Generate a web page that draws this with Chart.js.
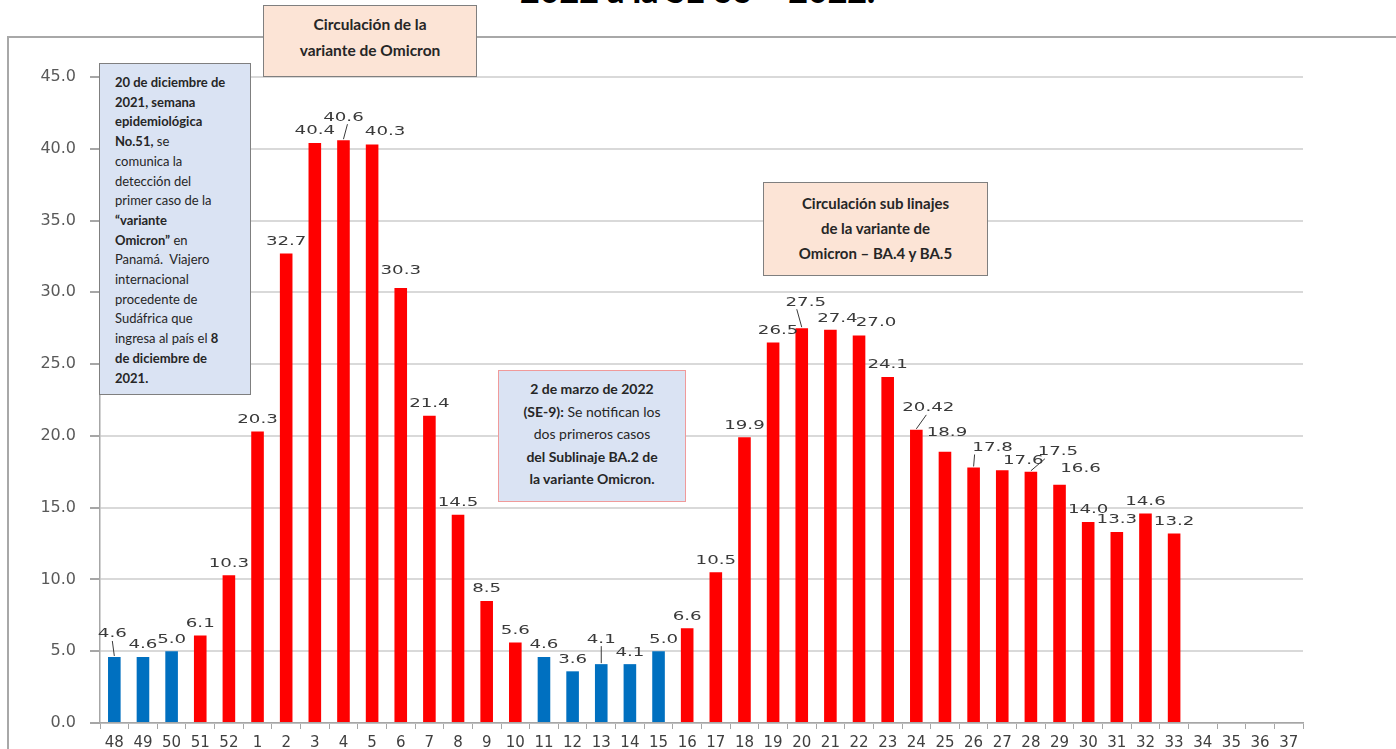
<!DOCTYPE html>
<html>
<head>
<meta charset="utf-8">
<title>Tasa semanal</title>
<script src="https://cdn.jsdelivr.net/npm/chart.js@4.4.1/dist/chart.umd.min.js"></script>
<style>
    html, body { margin: 0; padding: 0; background: #fff; overflow: hidden; }
    #wrap { position: relative; width: 1396px; height: 749px; overflow: hidden; }
    #frame { position: absolute; left: 7px; top: 36px; width: 1420px; height: 800px; border: 2px solid #a8a8a8; box-sizing: border-box; }
    #c { position: absolute; left: 0; top: 0; }
    .title { position: absolute; left: 520px; top: -27px; font: 900 34px/34px Lato, "Liberation Sans", sans-serif; color: #000; white-space: nowrap; }
    .note { position: absolute; box-sizing: border-box; font-family: Lato, "Open Sans", sans-serif; color: #262626; }
    .peach { background: #fce4d6; border: 1.5px solid #7f7f7f; text-align: center; font-weight: bold; }
    .blue { background: #dae3f3; }
    b { font-weight: bold; }
</style>
</head>
<body>
<div id="wrap">
    <div id="frame"></div>
    <div class="title">2022 a la SE 33 – 2022.</div>
    <canvas id="c" width="1396" height="765"></canvas>

    <div class="note peach" style="left:263px; top:5px; width:214px; height:72px; font-size:15.5px; line-height:26px; padding-top:5px;">
        Circulación de la<br>variante de Omicron
    </div>

    <div class="note blue" style="left:99px; top:63px; width:152px; height:332px; border:1.5px solid #7f7f7f; font-size:13px; line-height:19.7px; padding:9px 0 0 15px;">
        <b>20 de diciembre de<br>2021, semana<br>epidemiológica<br>No.51,</b> se<br>comunica la<br>detección del<br>primer caso de la<br><b>“variante<br>Omicron”</b> en<br>Panamá.&nbsp; Viajero<br>internacional<br>procedente de<br>Sudáfrica que<br>ingresa al país el <b>8<br>de diciembre de<br>2021.</b>
    </div>

    <div class="note blue" style="left:498px; top:370px; width:188px; height:132px; border:1px solid #f09a9a; font-size:14px; line-height:22.5px; text-align:center; padding-top:7px;">
        <b>2 de marzo de 2022</b><br><b>(SE-9):</b> Se notifican los<br>dos primeros casos<br><b>del Sublinaje BA.2 de<br>la variante Omicron.</b>
    </div>

    <div class="note peach" style="left:763px; top:182px; width:225px; height:94px; font-size:15px; line-height:25px; padding-top:8px;">
        Circulación sub linajes<br>de la variante de<br>Omicron – BA.4 y BA.5
    </div>
</div>

<script>
// semanas epidemiológicas: 48-52 de 2021, 1-37 de 2022
const weeks = ['48', '49', '50', '51', '52',
    '1', '2', '3', '4', '5', '6', '7', '8', '9', '10',
    '11', '12', '13', '14', '15', '16', '17', '18', '19', '20',
    '21', '22', '23', '24', '25', '26', '27', '28', '29', '30',
    '31', '32', '33', '34', '35', '36', '37'];

const rates = [4.6, 4.6, 5.0, 6.1, 10.3,
    20.3, 32.7, 40.4, 40.6, 40.3, 30.3, 21.4, 14.5, 8.5, 5.6,
    4.6, 3.6, 4.1, 4.1, 5.0, 6.6, 10.5, 19.9, 26.5, 27.5,
    27.4, 27.0, 24.1, 20.42, 18.9, 17.8, 17.6, 17.5, 16.6, 14.0,
    13.3, 14.6, 13.2, null, null, null, null];

// semanas antes de Omicron y del sublinaje BA.2 van en azul
const blueWeeks = ['48', '49', '50', '11', '12', '13', '14', '15'];

const yTicks = [0, 5, 10, 15, 20, 25, 30, 35, 40, 45];

function fmtRate(v) {
    return Number.isInteger(Math.round(v * 100) / 10) ? v.toFixed(1) : String(v);
}

// etiquetas de valor sobre cada barra, algunas desplazadas con línea guía
const barValueLabels = {
    id: 'barValueLabels',
    afterDatasetsDraw(chart, args, opts) {
        const ctx = chart.ctx;
        const meta = chart.getDatasetMeta(0);
        ctx.save();
        ctx.font = opts.font;
        ctx.fillStyle = opts.color;
        ctx.strokeStyle = opts.color;
        ctx.lineWidth = 1;
        ctx.textAlign = 'center';
        ctx.textBaseline = 'middle';
        meta.data.forEach((bar, i) => {
            const v = rates[i];
            if (v == null) return;
            const [dx, dy, lead] = opts.nudges[i] || [0, -12];
            const x = bar.x + dx;
            const y = bar.y + dy;
            if (lead !== undefined) {
                ctx.beginPath();
                ctx.moveTo(bar.x, bar.y - 1);
                ctx.lineTo(bar.x + lead, y + 7);
                ctx.stroke();
            }
            ctx.save();
            ctx.translate(x, y);
            ctx.scale(opts.stretch, 1);
            ctx.fillText(fmtRate(v), 0, 0);
            ctx.restore();
        });
        ctx.restore();
    }
};

new Chart(document.getElementById('c'), {
    type: 'bar',
    data: {
        labels: weeks,
        datasets: [{
            data: rates,
            backgroundColor: c => blueWeeks.includes(weeks[c.dataIndex]) ? '#0070c0' : '#ff0000',
            barPercentage: 0.44,
            categoryPercentage: 1
        }]
    },
    options: {
        responsive: false,
        animation: false,
        layout: { padding: { left: 8, right: 93, top: 77, bottom: 0 } },
        plugins: {
            legend: { display: false },
            tooltip: { enabled: false },
            barValueLabels: {
                font: '13px "DejaVu Sans"',
                color: '#3a3a3a',
                stretch: 1.4,
                nudges: {
                    0: [-2, -23, -2],
                    8: [0, -23, 4],
                    9: [13, -13],
                    10: [0, -17],
                    17: [0, -25, 0],
                    19: [5, -12],
                    23: [5, -12],
                    24: [4, -26, -5],
                    25: [7, -11],
                    26: [17, -13],
                    28: [12, -22, 10],
                    29: [2, -19],
                    30: [19, -20, 1],
                    31: [21, -10],
                    32: [27, -20, 14],
                    33: [21, -16]
                }
            }
        },
        scales: {
            x: {
                grid: {
                    drawOnChartArea: false,
                    tickLength: 6,
                    tickColor: '#a6a6a6',
                    offset: true
                },
                border: { color: '#a6a6a6', width: 1.5 },
                ticks: {
                    color: '#404040',
                    font: { family: 'DejaVu Sans', size: 15 },
                    padding: 5,
                    maxRotation: 0,
                    autoSkip: false
                },
                afterFit: s => { s.height = 42; }
            },
            y: {
                min: 0,
                max: 45,
                afterBuildTicks: s => { s.ticks = yTicks.map(v => ({ value: v })); },
                ticks: {
                    callback: v => v.toFixed(1),
                    color: '#595959',
                    font: { family: 'DejaVu Sans', size: 16 },
                    padding: 14
                },
                grid: {
                    color: '#d9d9d9',
                    lineWidth: 2,
                    tickLength: 10,
                    tickColor: '#a6a6a6'
                },
                border: { color: '#a6a6a6', width: 1.5 },
                afterFit: s => { s.width = 92; }
            }
        }
    },
    plugins: [barValueLabels]
});
</script>
</body>
</html>
